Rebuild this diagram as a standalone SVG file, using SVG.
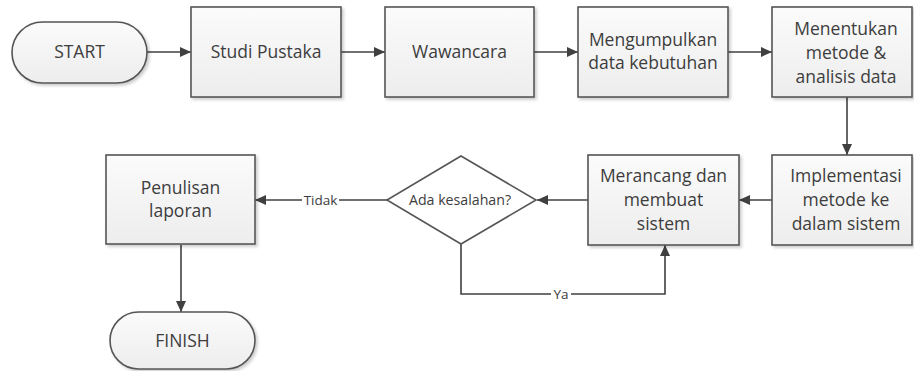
<svg xmlns="http://www.w3.org/2000/svg" width="914" height="371" viewBox="0 0 914 371">
<defs>
<linearGradient id="g" x1="0" y1="0" x2="0" y2="1">
<stop offset="0" stop-color="#fbfbfb"/>
<stop offset="1" stop-color="#ededed"/>
</linearGradient>
<filter id="sh" x="-10%" y="-10%" width="130%" height="130%">
<feDropShadow dx="2" dy="2" stdDeviation="1.5" flood-color="#000" flood-opacity="0.2"/>
</filter>
<marker id="ah" markerUnits="userSpaceOnUse" markerWidth="11" markerHeight="10" refX="11" refY="5" orient="auto">
<path d="M0,0 L11,5 L0,10 z" fill="#404040"/>
</marker>
</defs>
<style>
.box{fill:url(#g);stroke:#555;stroke-width:1.6;filter:url(#sh)}
.t{font-family:"Open Sans","Noto Sans",sans-serif;font-size:17.5px;fill:#3d3d3d;text-anchor:middle}
.s{font-family:"Open Sans","Noto Sans",sans-serif;font-size:13.5px;fill:#3d3d3d;text-anchor:middle}
.d{font-family:"Open Sans","Noto Sans",sans-serif;font-size:14.2px;fill:#3d3d3d;text-anchor:middle}
.c{fill:none;stroke:#404040;stroke-width:1.6}
.a{marker-end:url(#ah)}
</style>
<rect width="914" height="371" fill="#fff"/>
<g id="connectors">
<path class="c a" d="M147,52 H191"/>
<path class="c a" d="M341,52 H385"/>
<path class="c a" d="M534,52 H578"/>
<path class="c a" d="M728,52 H772"/>
<path class="c a" d="M847,97 V155"/>
<path class="c a" d="M772,200 H739"/>
<path class="c a" d="M588,200 H537"/>
<path class="c a" d="M387,200 H255"/>
<path class="c a" d="M461,244 V294 H665 V245"/>
<path class="c a" d="M181,245 V312"/>
<rect x="302" y="192" width="37" height="16" fill="#fff"/>
<text class="s" x="320.5" y="205">Tidak</text>
<rect x="551" y="286" width="20" height="16" fill="#fff"/>
<text class="s" x="561" y="299">Ya</text>
</g>
<g id="start">
<rect class="box" x="12" y="22" width="135" height="61" rx="30.5"/>
<text class="t" x="79.5" y="58">START</text>
</g>
<g id="studi">
<rect class="box" x="191" y="7" width="150" height="90"/>
<text class="t" x="266" y="58">Studi Pustaka</text>
</g>
<g id="wawancara">
<rect class="box" x="385" y="7" width="149" height="90"/>
<text class="t" x="459.5" y="58">Wawancara</text>
</g>
<g id="mengumpulkan">
<rect class="box" x="578" y="7" width="150" height="90"/>
<text class="t" x="653" y="46">Mengumpulkan</text>
<text class="t" x="653" y="69">data kebutuhan</text>
</g>
<g id="menentukan">
<rect class="box" x="772" y="7" width="140" height="90"/>
<text class="t" x="846" y="35">Menentukan</text>
<text class="t" x="846" y="59">metode &amp;</text>
<text class="t" x="846" y="83">analisis data</text>
</g>
<g id="implementasi">
<rect class="box" x="772" y="155" width="140" height="90"/>
<text class="t" x="846" y="182">Implementasi</text>
<text class="t" x="846" y="206">metode ke</text>
<text class="t" x="846" y="230">dalam sistem</text>
</g>
<g id="merancang">
<rect class="box" x="588" y="155" width="151" height="90"/>
<text class="t" x="663.5" y="182">Merancang dan</text>
<text class="t" x="663.5" y="206">membuat</text>
<text class="t" x="663.5" y="230">sistem</text>
</g>
<g id="decision">
<polygon points="461,156 536,200 461,244 387,200" fill="#fff" stroke="#555" stroke-width="1.6"/>
<text class="d" x="460" y="205">Ada kesalahan?</text>
</g>
<g id="penulisan">
<rect class="box" x="106" y="155" width="149" height="89"/>
<text class="t" x="180.5" y="194">Penulisan</text>
<text class="t" x="180.5" y="217">laporan</text>
</g>
<g id="finish">
<rect class="box" x="110" y="312" width="145" height="57" rx="28.5"/>
<text class="t" x="182.5" y="347">FINISH</text>
</g>
</svg>
